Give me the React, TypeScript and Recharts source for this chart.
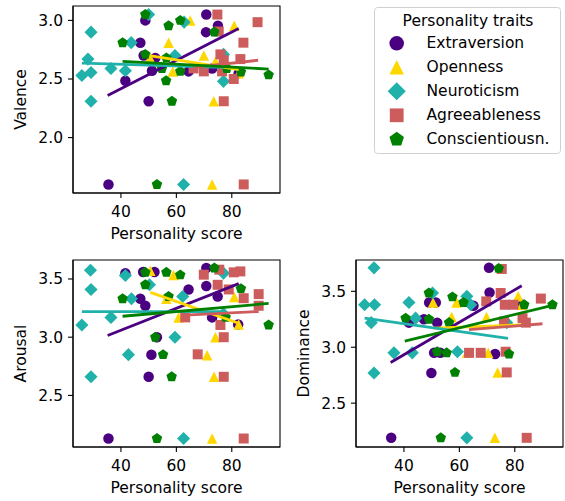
import React from 'react';
import { ScatterChart, Scatter, XAxis, YAxis, ReferenceArea } from 'recharts';

type Pt = [number, number];

const traits = ['Extraversion', 'Openness', 'Neuroticism', 'Agreeableness', 'Conscientiousn.'];
const colors = ['#4b0082', '#ffd700', '#20b2aa', '#cd5c5c', '#008000'];
const markers = ['circle', 'triangle', 'diamond', 'square', 'pentagon'];

const xDomain: [number, number] = [22.7, 97.4];
const xTicks = [40, 60, 80];
const valenceTicks = [2.0, 2.5, 3.0];
const arousalTicks = [2.5, 3.0, 3.5];
const dominanceTicks = [2.5, 3.0, 3.5];

// valence (score, mean rating)
const valE: Pt[] = [[35.5, 1.6], [41.6, 2.485], [47, 2.81], [48.2, 2.7], [48.8, 3.0], [50, 2.31], [51.2, 2.57], [52.4, 2.68], [64.4, 2.565], [70.8, 3.05], [70.7, 2.9], [75, 2.955], [72.9, 2.59], [82.5, 2.55]];
const valO: Pt[] = [[72.9, 1.6], [57.2, 2.81], [65, 3.0], [69.9, 2.7], [80.9, 2.955], [73.5, 2.31], [58.7, 2.565], [74.1, 2.65], [50.5, 2.68], [82.5, 2.55]];
const valN: Pt[] = [[29.2, 2.9], [28.1, 2.67], [25.9, 2.53], [29.2, 2.555], [29.2, 2.31], [36.4, 2.59], [41.6, 2.57], [43.7, 2.81], [50, 3.05], [62.8, 2.985], [59.5, 2.7], [62.6, 1.6], [77, 2.71], [77, 2.48]];
const valA: Pt[] = [[84.3, 1.6], [74.8, 3.05], [89.3, 2.985], [84.2, 2.81], [75.3, 2.905], [75.9, 2.71], [83.1, 2.67], [76.5, 2.565], [80.7, 2.5], [69.9, 2.565], [77.1, 2.31], [66.2, 2.59], [77.1, 2.66]];
const valC: Pt[] = [[53, 1.6], [48.8, 3.05], [40.6, 2.81], [48.8, 2.71], [57.2, 2.955], [61.4, 3.0], [73.7, 2.9], [56.4, 2.68], [56.3, 2.485], [58.4, 2.31], [61.4, 2.565], [54.8, 2.59], [78.2, 2.59], [83.3, 2.56], [93.3, 2.535]];
const valFits: Pt[][] = [
  [[35.2, 2.36], [82.5, 2.93]],
  [[50.3, 2.7], [82.5, 2.58]],
  [[25.9, 2.635], [77, 2.6]],
  [[66.2, 2.6], [89.5, 2.66]],
  [[40.6, 2.65], [93.3, 2.585]],
];

// arousal
const arE: Pt[] = [[35.5, 2.13], [41.6, 3.55], [48, 3.56], [52.1, 3.56], [47, 3.33], [48.8, 3.27], [53, 3.0], [51, 2.85], [50, 2.66], [64.4, 3.41], [70.8, 3.595], [70.8, 3.44], [74.9, 3.35], [72.9, 3.17], [82.3, 3.11]];
const arO: Pt[] = [[72.9, 2.13], [59, 3.535], [80.9, 3.345], [60.8, 3.17], [74.1, 3.0], [71.1, 2.845], [73.6, 2.66], [56.4, 3.33], [50.6, 3.57], [82.5, 3.11]];
const arN: Pt[] = [[29, 3.575], [29.2, 3.41], [25.9, 3.105], [36.4, 3.17], [29.2, 2.66], [41.6, 3.53], [43.8, 3.33], [42.7, 2.85], [50.3, 3.45], [59.5, 3.0], [62.6, 2.13], [62.3, 3.35], [77, 3.55], [77, 3.2]];
const arA: Pt[] = [[84.3, 2.13], [75.5, 3.58], [83.1, 3.565], [80.7, 3.557], [69.9, 3.537], [74.9, 3.45], [78.9, 3.41], [84.3, 3.335], [89.7, 3.37], [89.7, 3.27], [63.2, 3.17], [75.9, 3.105], [77.1, 3.0], [67.7, 2.853], [77.1, 2.66]];
const arC: Pt[] = [[53, 2.13], [48.8, 3.557], [56.4, 3.557], [61.4, 3.535], [48.8, 3.45], [40.6, 3.33], [57.2, 3.35], [73.7, 3.595], [83.3, 3.417], [77.8, 3.17], [52.4, 3.0], [55.2, 2.85], [58.3, 2.66], [93.3, 3.105]];
const arFits: Pt[][] = [
  [[35.2, 3.014], [82.5, 3.46]],
  [[50.6, 3.385], [82.5, 3.12]],
  [[25.9, 3.22], [77, 3.22]],
  [[63.2, 3.19], [89.7, 3.22]],
  [[40.6, 3.18], [93.3, 3.29]],
];

// dominance
const doE: Pt[] = [[35.4, 2.19], [41.8, 3.22], [47.2, 3.25], [49.1, 3.4], [49.9, 2.77], [50.9, 2.95], [51.5, 3.4], [52, 3.22], [53.1, 2.95], [65.1, 3.37], [70.7, 3.71], [70.9, 3.49], [72.9, 2.94], [82.8, 3.38]];
const doO: Pt[] = [[72.8, 2.19], [59, 3.4], [81.2, 3.455], [57.2, 3.27], [69.8, 3.27], [62.8, 2.95], [73.8, 2.775], [70.4, 2.95], [50.5, 3.4], [82.5, 3.38]];
const doN: Pt[] = [[29.2, 3.71], [25.8, 3.38], [29.4, 3.38], [28.2, 3.22], [29.2, 2.77], [36.4, 2.95], [41.8, 3.4], [43, 2.95], [44.2, 3.26], [50.3, 3.485], [59.3, 2.96], [62.7, 2.19], [62.7, 3.455], [64.1, 3.38], [77.1, 3.22]];
const doA: Pt[] = [[84.3, 2.19], [75.3, 3.7], [74.9, 3.485], [69.7, 3.41], [76.4, 3.38], [79.5, 3.38], [89.4, 3.435], [82.8, 3.26], [84, 3.22], [76.1, 3.23], [63.5, 2.95], [67.7, 2.95], [76.7, 2.96], [77.1, 2.775]];
const doC: Pt[] = [[53.3, 2.19], [74.2, 3.705], [49, 3.485], [57.5, 3.45], [61.5, 3.4], [40.6, 3.26], [49, 3.25], [56.3, 3.22], [52, 2.96], [55.4, 2.95], [58.4, 2.775], [83.4, 3.38], [77.9, 2.94], [93.6, 3.38]];
const doFits: Pt[][] = [
  [[35.2, 2.864], [82.5, 3.55]],
  [[50.5, 3.17], [82.5, 3.2]],
  [[25.8, 3.26], [77.6, 3.08]],
  [[63.5, 3.157], [90, 3.21]],
  [[40.3, 3.055], [93.6, 3.375]],
];

const FONT = "'DejaVu Sans', sans-serif";
const FS = 15.5;

function Glyph({ kind, cx, cy, s, color }: { kind: string; cx: number; cy: number; s: number; color: string }) {
  const h = s / 2;
  if (kind === 'circle') return <circle cx={cx} cy={cy} r={h} fill={color} />;
  if (kind === 'triangle')
    return <polygon points={`${cx},${cy - h} ${cx - h},${cy + h} ${cx + h},${cy + h}`} fill={color} />;
  if (kind === 'diamond') {
    const d = h * 1.25;
    return <polygon points={`${cx},${cy - d} ${cx + d},${cy} ${cx},${cy + d} ${cx - d},${cy}`} fill={color} />;
  }
  if (kind === 'square') {
    const q = h * 0.95;
    return <rect x={cx - q} y={cy - q} width={q * 2} height={q * 2} fill={color} />;
  }
  const pts: string[] = [];
  const r = h * 1.05;
  for (let i = 0; i < 5; i++) {
    const a = -Math.PI / 2 + (i * 2 * Math.PI) / 5;
    pts.push(`${cx + r * Math.cos(a)},${cy + r * Math.sin(a)}`);
  }
  return <polygon points={pts.join(' ')} fill={color} />;
}

const toRows = (pts: Pt[]) => pts.map(([x, y]) => ({ x, y }));

function Panel({ label, left, top, yDomain, yTicks, series, fits }: {
  label: string; left: number; top: number; yDomain: [number, number]; yTicks: number[]; series: Pt[][]; fits: Pt[][];
}) {
  const tick = { fontSize: FS, fill: '#000', fontFamily: FONT };
  return (
    <div style={{ position: 'absolute', left, top }}>
      <ScatterChart width={282} height={248} margin={{ top: 6, right: 2, bottom: 0, left: 0 }}>
        <XAxis
          type="number" dataKey="x" domain={xDomain} ticks={xTicks} allowDataOverflow
          height={55} tickSize={5} tickMargin={8} tick={tick} stroke="#000" strokeWidth={1.1}
          label={{ value: 'Personality score', position: 'insideBottom', offset: 9, fontSize: FS, fill: '#000', fontFamily: FONT }}
        />
        <YAxis
          type="number" dataKey="y" domain={yDomain} ticks={yTicks} allowDataOverflow
          width={73} tickSize={5} tickMargin={5} tick={tick} stroke="#000" strokeWidth={1.1}
          tickFormatter={(v: number) => v.toFixed(1)}
          label={{ value: label, angle: -90, position: 'insideLeft', offset: 20, fontSize: FS, fill: '#000', fontFamily: FONT, style: { textAnchor: 'middle' } }}
        />
        <ReferenceArea x1={xDomain[0]} x2={xDomain[1]} y1={yDomain[0]} y2={yDomain[1]} fill="none" stroke="#000" strokeWidth={1.1} />
        {series.map((pts, i) => (
          <Scatter
            key={traits[i]} name={traits[i]} data={toRows(pts)} isAnimationActive={false}
            shape={(p: any) => <Glyph kind={markers[i]} cx={p.cx} cy={p.cy} s={10.5} color={colors[i]} />}
          />
        ))}
        {fits.map((pts, i) => (
          <Scatter
            key={'fit' + i} data={toRows(pts)} isAnimationActive={false} legendType="none"
            line={{ stroke: colors[i], strokeWidth: 2.8 }} shape={() => <g />}
          />
        ))}
      </ScatterChart>
    </div>
  );
}

function TraitLegend() {
  return (
    <svg style={{ position: 'absolute', left: 374, top: 7 }} width={188} height={148}>
      <rect x={0.5} y={0.5} width={186} height={146} rx={3} fill="#fff" stroke="#d0d0d0" />
      <text x={94} y={14} fontSize={FS} fontFamily={FONT} textAnchor="middle" dominantBaseline="central">Personality traits</text>
      {traits.map((t, i) => (
        <g key={t}>
          <Glyph kind={markers[i]} cx={22.7} cy={36.3 + i * 24} s={14.5} color={colors[i]} />
          <text x={52.5} y={36.3 + i * 24} fontSize={FS} fontFamily={FONT} dominantBaseline="central">{t}</text>
        </g>
      ))}
    </svg>
  );
}

export default function App() {
  return (
    <div style={{ position: 'absolute', left: 0, top: 0, width: 565, height: 501, background: '#fff', fontFamily: FONT }}>
      <Panel label="Valence" left={0} top={0} yDomain={[1.527, 3.123]} yTicks={valenceTicks}
        series={[valE, valO, valN, valA, valC]} fits={valFits} />
      <Panel label="Arousal" left={0} top={254} yDomain={[2.057, 3.663]} yTicks={arousalTicks}
        series={[arE, arO, arN, arA, arC]} fits={arFits} />
      <Panel label="Dominance" left={283} top={254} yDomain={[2.108, 3.78]} yTicks={dominanceTicks}
        series={[doE, doO, doN, doA, doC]} fits={doFits} />
      <TraitLegend />
    </div>
  );
}
